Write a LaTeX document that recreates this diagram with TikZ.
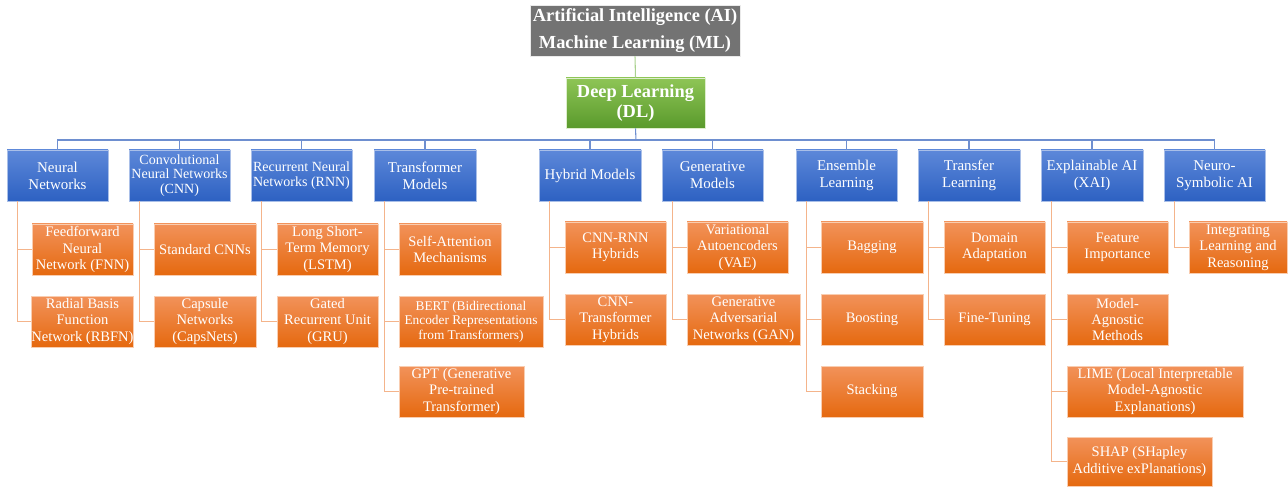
\documentclass[tikz,border=0pt]{standalone}
\usepackage{fontspec}
\setmainfont{Liberation Serif}
\usetikzlibrary{calc}
\definecolor{bluetop}{HTML}{5D88D9}
\definecolor{bluebot}{HTML}{2D61C2}
\definecolor{blueedge}{HTML}{A9BFE8}
\definecolor{orgtop}{HTML}{F2925A}
\definecolor{orgbot}{HTML}{E5690F}
\definecolor{orgedge}{HTML}{F9CDB0}
\definecolor{greyfill}{HTML}{737373}
\definecolor{greentop}{HTML}{8EC556}
\definecolor{greenbot}{HTML}{5A9A2C}
\definecolor{blueline}{HTML}{6E8FD0}
\definecolor{orgline}{HTML}{F4B48B}
\definecolor{greenline}{HTML}{A9D18E}
\tikzset{
  basebox/.style={align=center, inner sep=0pt, text=white, line width=0.6pt},
  bluebox/.style={basebox, shade, top color=bluetop, bottom color=bluebot, draw=blueedge,
    font=\fontsize{11.2}{12.6}\selectfont},
  orgbox/.style={basebox, shade, top color=orgtop, bottom color=orgbot, draw=orgedge,
    font=\fontsize{10.9}{12.3}\selectfont},
  greybox/.style={basebox, fill=greyfill, draw=white!85!greyfill,
    font=\bfseries\fontsize{13.8}{20.5}\selectfont},
  greenbox/.style={basebox, shade, top color=greentop, bottom color=greenbot, draw=white!70!greentop,
    font=\bfseries\fontsize{13.8}{15}\selectfont},
  bline/.style={draw=blueline, line width=0.8pt},
  oline/.style={draw=orgline, line width=0.8pt},
  gline/.style={draw=greenline, line width=0.8pt},
  smallfont/.style={font=\fontsize{10}{11}\selectfont},
  medfont/.style={font=\fontsize{10.5}{11}\selectfont}
}
\newcommand\mkbox[7]{%
  \node[#1, minimum width={(#5-#3)*0.75pt}, minimum height={(#6-#4)*0.75pt}]
    (#2) at ({(#3+#5)/2},{(#4+#6)/2}) {#7};}
\begin{document}
\begin{tikzpicture}[x=0.75pt,y=-0.75pt]
\useasboundingbox (0,0) rectangle (1288,488);
% top
\mkbox{greybox}{ai}{530}{5}{740}{56}{Artificial Intelligence (AI)\\Machine Learning (ML)}
\mkbox{greenbox}{dl}{566}{78}{705}{128}{Deep Learning\\(DL)}
% blue categories
\mkbox{bluebox}{nn}{7}{150}{108}{201}{Neural\\Networks}
\mkbox{bluebox,medfont}{cnn}{129}{150}{230}{201}{Convolutional\\Neural Networks\\(CNN)}
\mkbox{bluebox,medfont}{rnn}{251}{150}{352}{201}{Recurrent Neural\\Networks (RNN)}
\mkbox{bluebox}{tr}{374}{150}{476}{201}{Transformer\\Models}
\mkbox{bluebox}{hy}{539}{150}{641}{201}{Hybrid Models}
\mkbox{bluebox}{ge}{662}{150}{763}{201}{Generative\\Models}
\mkbox{bluebox}{en}{796}{150}{897}{201}{Ensemble\\Learning}
\mkbox{bluebox}{tl}{918}{150}{1020}{201}{Transfer\\Learning}
\mkbox{bluebox}{xai}{1041}{150}{1143}{201}{Explainable AI\\(XAI)}
\mkbox{bluebox}{ns}{1164}{150}{1265}{201}{Neuro-\\Symbolic AI}
% orange children
\mkbox{orgbox}{nn1}{32}{224}{133}{275}{Feedforward\\Neural\\Network (FNN)}
\mkbox{orgbox}{nn2}{32}{296}{133}{347}{Radial Basis\\Function\\Network (RBFN)}
\mkbox{orgbox}{cnn1}{154}{224}{256}{275}{Standard CNNs}
\mkbox{orgbox}{cnn2}{154}{296}{256}{347}{Capsule\\Networks\\(CapsNets)}
\mkbox{orgbox}{rnn1}{277}{224}{378}{275}{Long Short-\\Term Memory\\(LSTM)}
\mkbox{orgbox}{rnn2}{277}{296}{378}{347}{Gated\\Recurrent Unit\\(GRU)}
\mkbox{orgbox}{tr1}{399}{224}{501}{275}{Self-Attention\\Mechanisms}
\mkbox{orgbox,smallfont}{tr2}{399}{296}{543}{347}{BERT (Bidirectional\\Encoder Representations\\from Transformers)}
\mkbox{orgbox}{tr3}{399}{366}{524}{417}{GPT (Generative\\Pre-trained\\Transformer)}
\mkbox{orgbox}{hy1}{565}{222}{666}{273}{CNN-RNN\\Hybrids}
\mkbox{orgbox}{hy2}{565}{294}{666}{345}{CNN-\\Transformer\\Hybrids}
\mkbox{orgbox}{ge1}{687}{222}{788}{273}{Variational\\Autoencoders\\(VAE)}
\mkbox{orgbox}{ge2}{687}{294}{800}{345}{Generative\\Adversarial\\Networks (GAN)}
\mkbox{orgbox}{en1}{821}{222}{923}{273}{Bagging}
\mkbox{orgbox}{en2}{821}{294}{923}{345}{Boosting}
\mkbox{orgbox}{en3}{821}{366}{923}{417}{Stacking}
\mkbox{orgbox}{tl1}{944}{222}{1045}{273}{Domain\\Adaptation}
\mkbox{orgbox}{tl2}{944}{294}{1045}{345}{Fine-Tuning}
\mkbox{orgbox}{xai1}{1067}{222}{1168}{273}{Feature\\Importance}
\mkbox{orgbox}{xai2}{1067}{294}{1168}{345}{Model-\\Agnostic\\Methods}
\mkbox{orgbox}{xai3}{1067}{366}{1243}{417}{LIME (Local Interpretable\\Model-Agnostic\\Explanations)}
\mkbox{orgbox}{xai4}{1067}{437}{1212}{486}{SHAP (SHapley\\Additive exPlanations)}
\mkbox{orgbox}{ns1}{1189}{222}{1287}{273}{Integrating\\Learning and\\Reasoning}
% connectors top
\draw[gline] (ai.south) -- (dl.north);
\coordinate (hub) at (636,140);
\draw[bline] (dl.south) -- (hub);
\foreach \n in {nn,cnn,rnn,tr,hy,ge,en,tl,xai,ns}
  \draw[bline] (hub) -| (\n.north);
% connectors to children
\foreach \p/\cs in {nn/{nn1,nn2},cnn/{cnn1,cnn2},rnn/{rnn1,rnn2},tr/{tr1,tr2,tr3},
    hy/{hy1,hy2},ge/{ge1,ge2},en/{en1,en2,en3},tl/{tl1,tl2},xai/{xai1,xai2,xai3,xai4},ns/{ns1}}
  \foreach \c in \cs
    \draw[oline] ($(\p.south west)+(10.5,0)$) |- (\c.west);
\end{tikzpicture}
\end{document}
